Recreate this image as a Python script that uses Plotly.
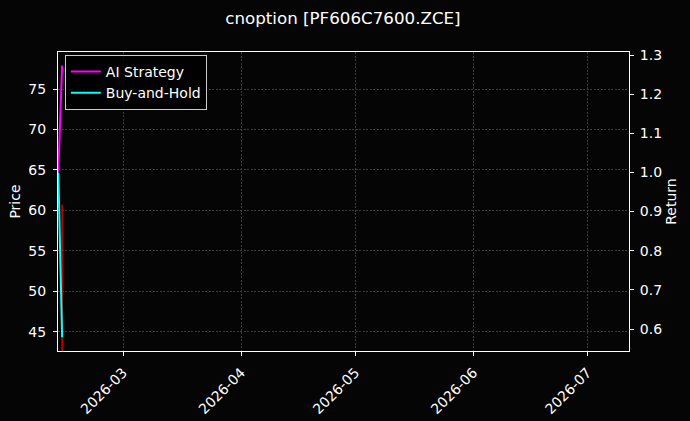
import plotly.graph_objects as go

# returns (right axis)
dates = ["2026-02-12", "2026-02-13"]
ai_strategy = [1.0, 1.273]
buy_hold = [1.0, 0.579]

# price candle (left axis)
candle_date = ["2026-02-13"]
candle_open = [44.3]
candle_high = [60.7]
candle_low = [40.0]
candle_close = [41.0]

title = "cnoption [PF606C7600.ZCE]"
font = "DejaVu Sans"
grid = "#3c3c3c"

fig = go.Figure()

fig.add_trace(go.Candlestick(
    x=candle_date, open=candle_open, high=candle_high, low=candle_low, close=candle_close,
    increasing=dict(line=dict(color="red", width=1.2), fillcolor="red"),
    decreasing=dict(line=dict(color="red", width=1.2), fillcolor="red"),
    whiskerwidth=0, showlegend=False, yaxis="y",
))

fig.add_trace(go.Scatter(x=dates, y=ai_strategy, mode="lines", name="AI Strategy",
                         line=dict(color="#ff00ff", width=2), yaxis="y2"))
fig.add_trace(go.Scatter(x=dates, y=buy_hold, mode="lines", name="Buy-and-Hold",
                         line=dict(color="#00ffff", width=2), yaxis="y2"))

axis_common = dict(
    showline=True, linecolor="white", linewidth=1,
    ticks="outside", tickcolor="white", ticklen=4,
    tickfont=dict(color="white", size=14, family=font),
    zeroline=False, automargin=False,
)

fig.update_layout(
    width=690, height=421,
    paper_bgcolor="#050505", plot_bgcolor="#050505",
    margin=dict(l=58, r=61, t=52, b=70, pad=0),
    font=dict(family=font, color="white", size=14),
    title=dict(text=title, x=0.497, xanchor="center", y=0.957, yanchor="middle",
               font=dict(size=16.7, color="white", family=font)),
    xaxis=dict(
        type="date", range=["2026-02-11 22:00", "2026-07-11 22:00"],
        tick0="2026-03-01", dtick="M1", tickformat="%Y-%m", tickangle=-45,
        ticklabelstandoff=3,
        showgrid=True, gridcolor=grid, griddash="2px,1.5px", gridwidth=0.6,
        mirror=True, rangeslider=dict(visible=False), **axis_common,
    ),
    yaxis=dict(
        range=[42.6, 79.6], tick0=45, dtick=5, ticklabelstandoff=4,
        showgrid=True, gridcolor=grid, griddash="2px,1.5px", gridwidth=0.6,
        title=dict(text="Price", font=dict(size=14, color="white"), standoff=4),
        **axis_common,
    ),
    yaxis2=dict(
        overlaying="y", side="right", range=[0.5438, 1.3077], tick0=0.6, dtick=0.1,
        tickformat=".1f", showgrid=False, ticklabelstandoff=3,
        title=dict(text="Return", font=dict(size=14, color="white"), standoff=5),
        **axis_common,
    ),
    legend=dict(
        x=0.012, y=0.99, xanchor="left", yanchor="top",
        bgcolor="rgba(0,0,0,0.8)", bordercolor="#cccccc", borderwidth=1,
        font=dict(size=14, color="white", family=font),
        tracegroupgap=0, itemwidth=30,
    ),
    showlegend=True,
)

fig.write_html("out.html", config={"displayModeBar": False},
               post_script="document.body.style.margin='0';")
